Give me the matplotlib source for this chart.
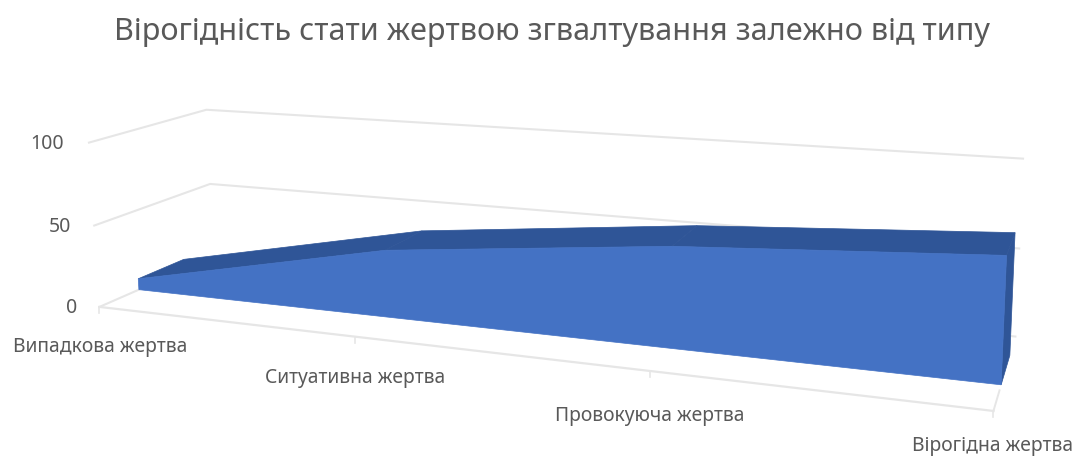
import numpy as np
import matplotlib
matplotlib.use("Agg")
import matplotlib.pyplot as plt
from matplotlib.patches import Polygon

title = "Вірогідність стати жертвою згвалтування залежно від типу"
categories = ["Випадкова жертва", "Ситуативна жертва", "Провокуюча жертва", "Вірогідна жертва"]
values = [7, 40, 57, 67]
y_ticks = [0, 50, 100]

# camera calibration of the pseudo-3D scene: (category, depth, value) -> pixel
scene = [(0,0,0),(1,0,0),(2,0,0),(3,0,0),(0,0,50),(0,0,100),(0,1,0),(0,1,50),(0,1,100),(3,1,0),(3,1,50),(3,1,100)]
image = [(102,306),(355,337),(650,372),(993,412),(93,225),(88,142),(212,258),(210,184),(208,110),(1016,335),(1019,247),(1023,160)]
A, b = [], []
for (c,d,v),(x,y) in zip(scene,image):
    A.append([c,d,v,1,0,0,0,0,-x*c,-x*d,-x*v]); b.append(x)
    A.append([0,0,0,0,c,d,v,1,-y*c,-y*d,-y*v]); b.append(y)
h = np.linalg.lstsq(np.array(A,float), np.array(b,float), rcond=None)[0]
P = np.append(h,1.0).reshape(3,4)
def project(c,d,v):
    p = P @ np.array([c,d,v,1.0])
    return p[0]/p[2], p[1]/p[2]

plt.rcParams['font.family'] = ['Noto Sans','DejaVu Sans']
fig = plt.figure(figsize=(10.75,4.57), dpi=100)
ax = fig.add_axes([0,0,1,1])
ax.set_xlim(0,1075); ax.set_ylim(457,0); ax.axis('off')

GRID = '#e6e6e6'; TXT = '#595959'; FRONT = '#4472C4'; DARK = '#2F5597'
n = len(categories)
last = n-1
for t in y_ticks:
    pts = [project(0,0,t), project(0,1,t), project(last,1,t)]
    ax.plot(*zip(*pts), color=GRID, lw=1.5, solid_joinstyle='round', zorder=1)
# floor front edge and ticks
ax.plot(*zip(project(0,0,0), project(last,0,0)), color=GRID, lw=1.6, zorder=1)
for i in range(n):
    x,y = project(i,0,0)
    ax.plot([x,x],[y,y+6], color=GRID, lw=1.2, zorder=1)
ax.plot(*zip(project(last,0,0), project(last,0.25,0)), color=GRID, lw=1.4, zorder=1)

d0, d1 = 0.32, 0.72
# top surface
for i in range(last):
    poly = [project(i,d0,values[i]), project(i,d1,values[i]), project(i+1,d1,values[i+1]), project(i+1,d0,values[i+1])]
    ax.add_patch(Polygon(poly, closed=True, fc=DARK, ec=DARK, lw=0.5, zorder=2))
# right side
side = [project(last,d0,0), project(last,d1,0), project(last,d1,values[last]), project(last,d0,values[last])]
ax.add_patch(Polygon(side, closed=True, fc=DARK, ec=DARK, lw=0.5, zorder=2))
# front face
front = [project(i,d0,values[i]) for i in range(n)] + [project(last,d0,0), project(0,d0,0)]
ax.add_patch(Polygon(front, closed=True, fc=FRONT, ec=FRONT, lw=0.5, zorder=3))

label_pos = [(100,347),(355,378),(650,416),(993,446)]
for lab,(x,y) in zip(categories,label_pos):
    ax.text(x,y,lab,ha='center',va='center',fontsize=13.9,color=TXT)
tick_pos = {0:(72,308),50:(60,227),100:(47,144)}
for t in y_ticks:
    x,y = tick_pos[t]
    ax.text(x,y,str(t),ha='center',va='center',fontsize=14,color=TXT)
ax.text(552,32,title,ha='center',va='center',fontsize=22,color=TXT)
fig.savefig('out.png', dpi=100)
